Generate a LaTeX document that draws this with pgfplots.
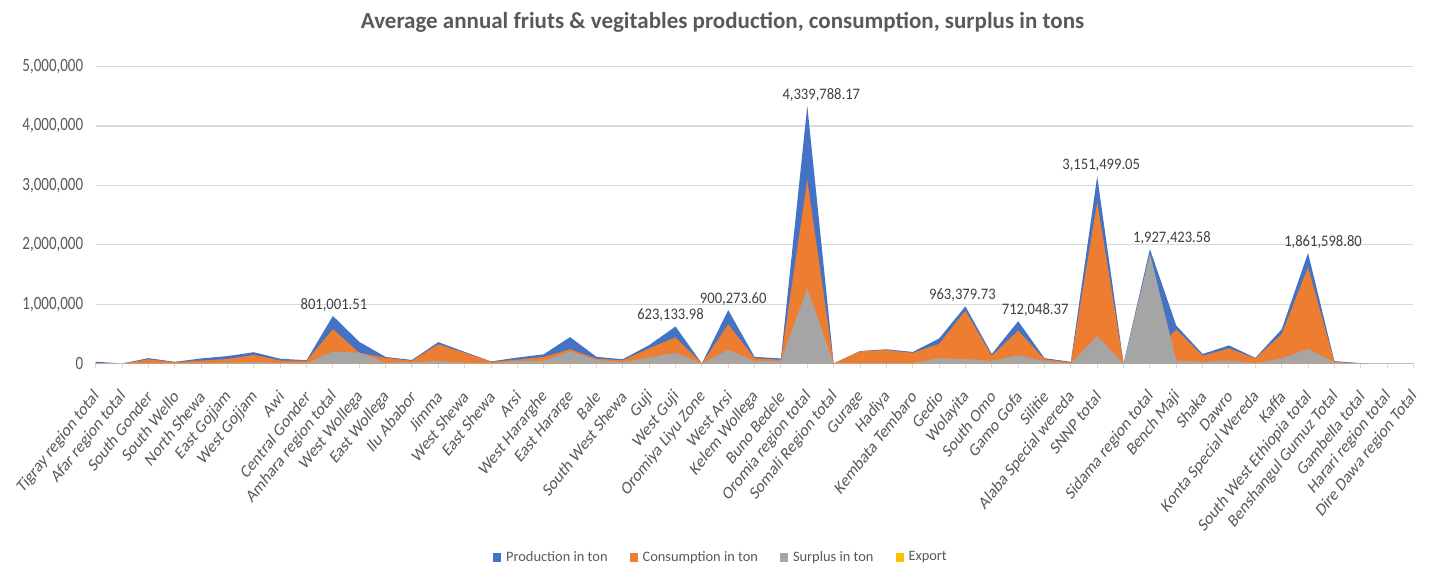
\documentclass[border=0pt]{standalone}
\usepackage{pgfplots}
\pgfplotsset{compat=1.18}
\usepackage{pgfplotstable}
\usepackage{fontspec}
\setmainfont{Carlito}

\definecolor{prodblue}{HTML}{4472C4}
\definecolor{consorange}{HTML}{ED7D31}
\definecolor{surpgray}{HTML}{A5A5A5}
\definecolor{expyellow}{HTML}{FFC000}
\definecolor{gridgray}{HTML}{D9D9D9}
\definecolor{txtgray}{HTML}{595959}
\definecolor{lblgray}{HTML}{404040}

% Average annual fruit & vegetable figures (tons) by zone / region
\pgfplotstableread{
idx prod cons surp exp
1  30000       5000     3000     0
2  0           0        0        0
3  90000       70000    5000     0
4  28000       24000    3000     0
5  85000       50000    10000    0
6  125000      75000    15000    0
7  190000      145000   25000    0
8  80000       50000    10000    0
9  55000       45000    8000     0
10 801001.51   580000   200000   0
11 365000      180000   185000   0
12 110000      95000    15000    0
13 60000       45000    20000    0
14 360000      325000   45000    0
15 195000      180000   15000    0
16 35000       30000    5000     0
17 100000      65000    45000    0
18 155000      110000   45000    0
19 445000      240000   205000   0
20 112000      82000    60000    0
21 72000       55000    28000    0
22 310000      255000   100000   0
23 623133.98   440000   180000   0
24 0           0        0        0
25 900273.60   660000   230000   0
26 112000      90000    45000    0
27 85000       62000    45000    0
28 4339788.17  3100000  1270000  0
29 0           0        0        0
30 210000      205000   5000     0
31 240000      228000   5000     0
32 195000      180000   8000     0
33 420000      330000   90000    0
34 963379.73   890000   75000    0
35 160000      130000   45000    0
36 712048.37   555000   140000   0
37 90000       72000    40000    0
38 28000       18000    5000     0
39 3151499.05  2720000  460000   0
40 0           0        0        0
41 1927423.58  100000   1850000  0
42 640000      575000   50000    0
43 160000      130000   28000    0
44 305000      255000   55000    0
45 95000       85000    10000    0
46 575000      495000   85000    0
47 1861598.80  1620000  245000   0
48 40000       30000    18000    0
49 6000        0        0        0
50 0           0        0        0
51 0           0        0        0
}\fvdata

% production values that carry a data label (dx: horizontal nudge of the label, pt)
\pgfplotstableread{
idx prod lab dx
10 801001.51  801,001.51    1
23 623133.98  623,133.98   -5
25 900273.60  900,273.60    5
28 4339788.17 4,339,788.17 14
34 963379.73  963,379.73   -3
36 712048.37  712,048.37   17
39 3151499.05 3,151,499.05  4
41 1927423.58 1,927,423.58 22
47 1861598.80 1,861,598.80 15
}\peaklabels

\begin{document}
\begin{tikzpicture}
\path[use as bounding box] (0pt,0pt) rectangle (1429pt,567pt);

\node[font=\bfseries\fontsize{23}{27}\selectfont, text=txtgray]
  at (722.5pt,545pt) {Average annual friuts \& vegitables production, consumption, surplus in tons};

\begin{axis}[
  at={(95.7pt,203.5pt)}, anchor=south west,
  scale only axis,
  width=1317.8pt, height=296.8pt,
  xmin=1, xmax=51, ymin=0, ymax=5000000,
  axis x line*=bottom, axis y line*=left,
  x axis line style={draw=gridgray, line width=1.2pt},
  y axis line style={draw=none},
  xtick={1,...,51},
  xticklabels={Tigray region total, Afar region total, South Gonder, South Wello,
    North Shewa, East Gojjam, West Gojjam, Awi, Central Gonder, Amhara region total,
    West Wollega, East Wollega, Ilu Ababor, Jimma, West Shewa, East Shewa, Arsi,
    West Hararghe, East Hararge, Bale, South West Shewa, Guji, West Guji,
    Oromiya Liyu Zone, West Arsi, Kelem Wollega, Buno Bedele, Oromia region total,
    Somali Region total, Gurage, Hadiya, Kembata Tembaro, Gedio, Wolayita,
    South Omo, Gamo Gofa, Silitie, Alaba Special wereda, SNNP total, {},
    Sidama region total, Bench Maji, Shaka, Dawro, Konta Special Wereda, Kaffa,
    South West Ethiopia total, Benshangul Gumuz Total, Gambella total,
    Harari region total, Dire Dawa region Total},
  xtick align=outside,
  major tick length=5pt,
  xtick style={draw=gridgray, line width=1pt},
  ytick={0,1000000,...,5000000},
  ytick style={draw=none},
  ymajorgrids,
  major grid style={draw=gridgray, line width=1.2pt},
  scaled y ticks=false,
  /pgf/number format/.cd, fixed, 1000 sep={,}, assume math mode=true,
  /pgfplots/.cd,
  yticklabel style={font=\fontsize{15}{17}\selectfont, text=txtgray, yscale=1.25, xshift=-9pt},
  xticklabel style={font=\fontsize{15}{17}\selectfont, text=txtgray,
    xshift=3.5pt, yshift=-22pt, yscale=1.22, rotate=46, anchor=east},
  legend columns=4,
  legend style={at={(0.4745,-0.652)}, anchor=center, draw=none, fill=none,
    font=\fontsize{14.4}{16}\selectfont, text=txtgray,
    /tikz/every even column/.append style={column sep=20pt}},
  legend image code/.code={\path[#1, draw=none] (0pt,-4.5pt) rectangle (8pt,4.5pt);
    \path (11pt,0pt);},
]
\addplot[fill=prodblue, draw=none] table[x=idx, y=prod] {\fvdata} \closedcycle;
\addlegendentry{Production in ton}
\addplot[fill=consorange, draw=none] table[x=idx, y=cons] {\fvdata} \closedcycle;
\addlegendentry{Consumption in ton}
\addplot[fill=surpgray, draw=none] table[x=idx, y=surp] {\fvdata} \closedcycle;
\addlegendentry{Surplus in ton}
\addplot[fill=expyellow, draw=none] table[x=idx, y=exp] {\fvdata} \closedcycle;
\addlegendentry{Export}

\addplot[forget plot, draw=none, nodes near coords, point meta=explicit symbolic,
  visualization depends on={\thisrow{dx} \as \labdx},
  nodes near coords style={font=\fontsize{14.6}{16}\selectfont, text=lblgray,
    yscale=1.1, anchor=south, inner sep=2pt, yshift=2pt, xshift=\labdx pt}]
  table[x=idx, y=prod, meta=lab] {\peaklabels};
\end{axis}
\end{tikzpicture}
\end{document}
